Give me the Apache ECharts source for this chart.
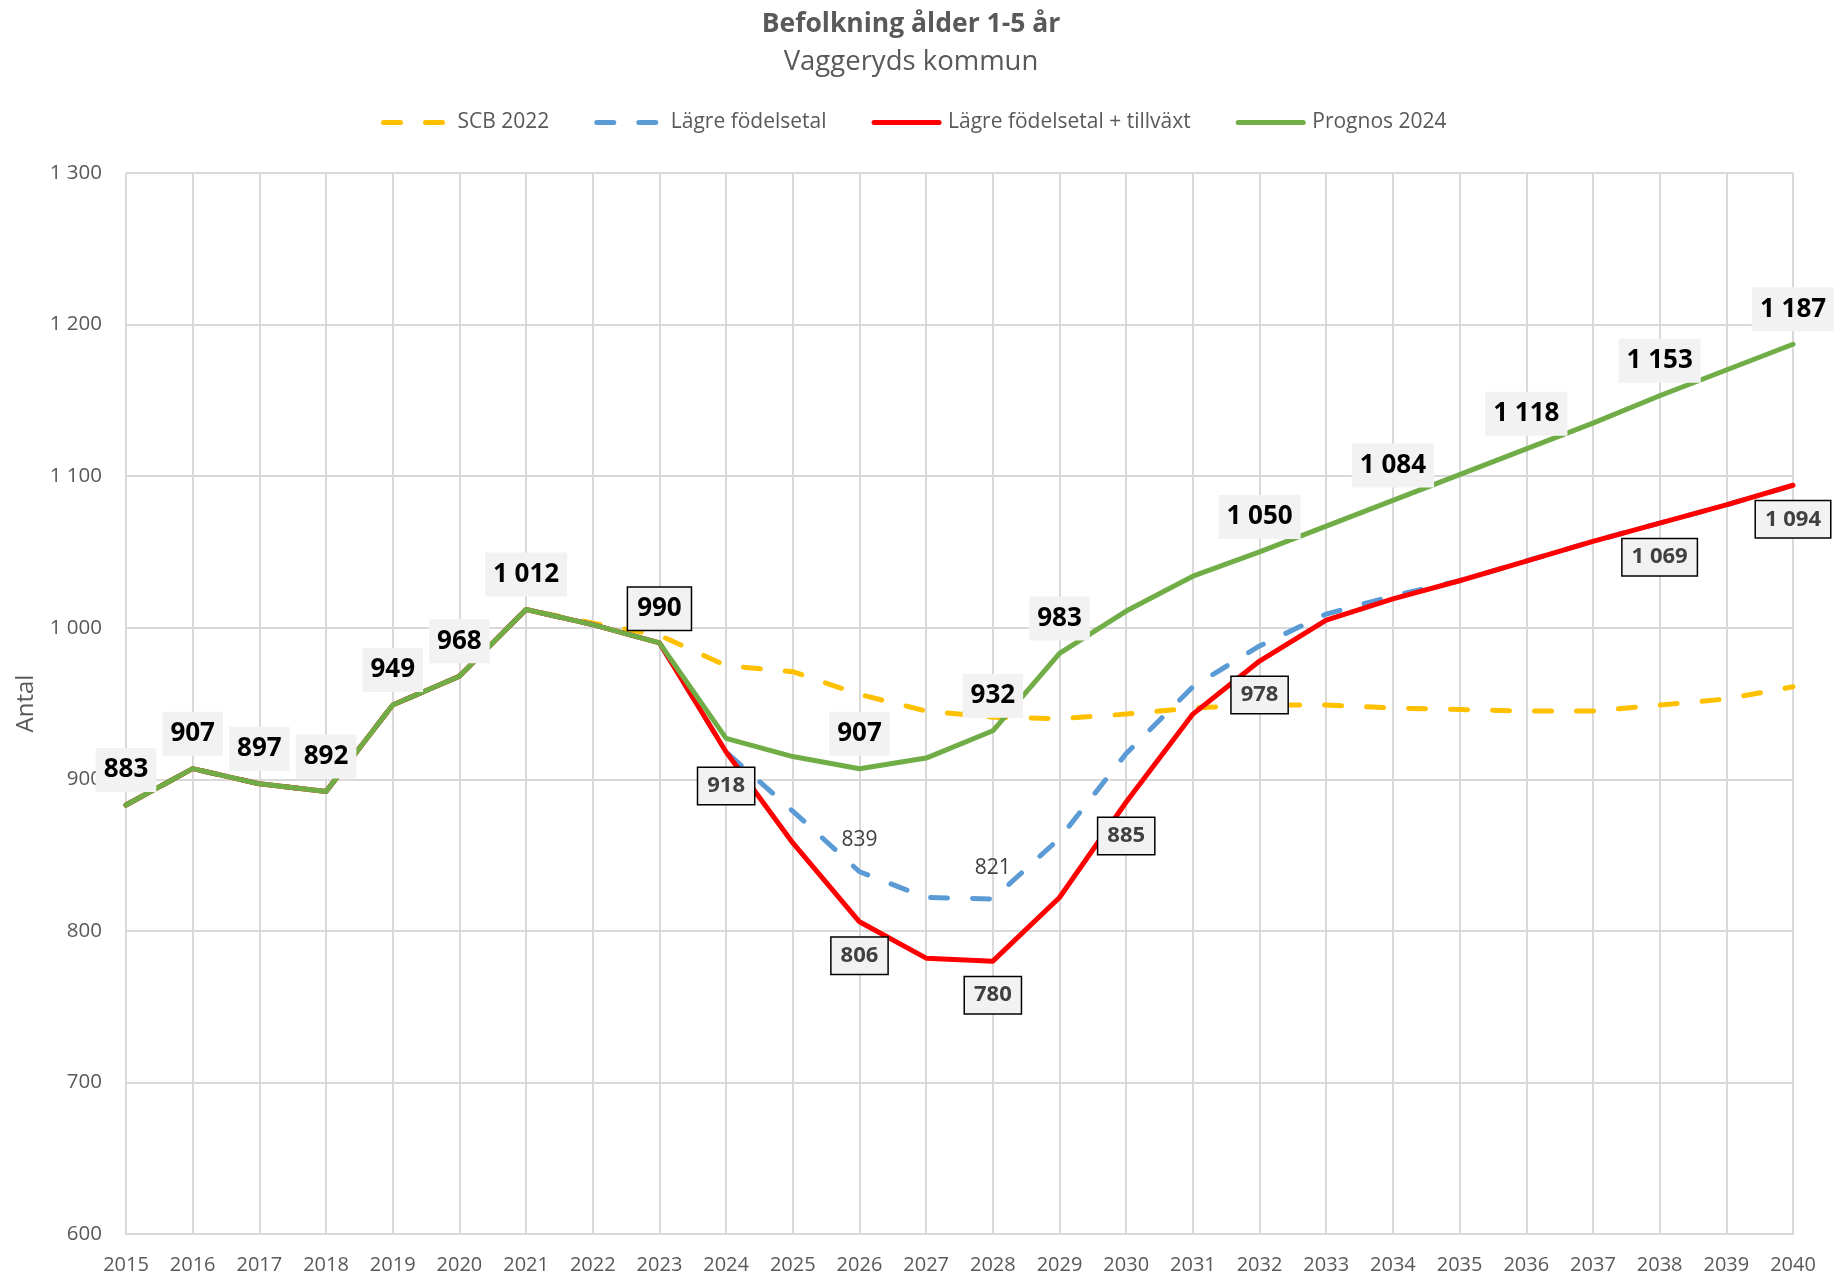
<!DOCTYPE html>
<html>
<head>
<meta charset="utf-8">
<title>Befolkning ålder 1-5 år</title>
<script src="https://cdn.jsdelivr.net/npm/echarts@6/dist/echarts.min.js"></script>
<style>
  html, body { margin: 0; padding: 0; background: #fff; }
  #chart { width: 1843px; height: 1278px; }
</style>
</head>
<body>
<div id="chart"></div>
<script>
// years on the x axis
var years = ['2015','2016','2017','2018','2019','2020','2021','2022','2023','2024','2025','2026','2027',
             '2028','2029','2030','2031','2032','2033','2034','2035','2036','2037','2038','2039','2040'];

// series values
var scb2022 = [883, 907, 897, 892, 949, 968, 1012, 1003, 995, 975, 971, 956, 945,
               941, 940, 943, 947, 949, 949, 947, 946, 945, 945, 949, 953, 961];
var lagreFodelsetal = [883, 907, 897, 892, 949, 968, 1012, 1002, 990, 918, 879, 839, 822,
                       821, 861, 917, 961, 988, 1009, 1021, 1031, 1044, 1057, 1069, 1081, 1094];
var lagreTillvaxt = [883, 907, 897, 892, 949, 968, 1012, 1002, 990, 918, 858, 806, 782,
                     780, 822, 885, 943, 978, 1005, 1019, 1031, 1044, 1057, 1069, 1081, 1094];
var prognos2024 = [883, 907, 897, 892, 949, 968, 1012, 1002, 990, 927, 915, 907, 914,
                   932, 983, 1011, 1034, 1050, 1067, 1084, 1101, 1118, 1135, 1153, 1170, 1187];

// which years carry a data label
var prognosLabelYears = ['2015','2016','2017','2018','2019','2020','2021','2026','2028','2029','2032','2034','2036','2038','2040'];
var tillvaxtLabelYears = ['2023','2024','2026','2028','2030','2032','2038','2040'];
var lagreLabelYears = ['2026','2028'];

// y axis
var yMin = 600, yMax = 1300, yStep = 100;

var FONT = '"Open Sans", "Noto Sans", sans-serif';
var GREY = '#595959';

function fmt(v) {
  return String(v).replace(/\B(?=(\d{3})+(?!\d))/g, ' ');
}

var greenLabel = {
  show: true, position: 'top', distance: 13,
  formatter: function (p) { return fmt(p.value); },
  fontFamily: FONT, fontSize: 26, fontWeight: 'bold', color: '#000',
  lineHeight: 26, backgroundColor: '#f2f2f2', padding: [9, 8]
};
var redLabel = {
  show: true, position: 'bottom', distance: 16,
  formatter: function (p) { return fmt(p.value); },
  fontFamily: FONT, fontSize: 22, fontWeight: 'bold', color: '#404040',
  lineHeight: 22, backgroundColor: '#f2f2f2', borderColor: '#000', borderWidth: 1.5,
  padding: [7, 9]
};
var bigBoxLabel = {
  show: true, position: 'top', distance: 13,
  formatter: function (p) { return fmt(p.value); },
  fontFamily: FONT, fontSize: 26, fontWeight: 'bold', color: '#000',
  lineHeight: 26, backgroundColor: '#f2f2f2', borderColor: '#000', borderWidth: 1.5,
  padding: [8, 9]
};
var blueLabel = {
  show: true, position: 'top', distance: 21,
  formatter: function (p) { return fmt(p.value); },
  fontFamily: FONT, fontSize: 21, color: '#404040'
};

// build data items, attaching labels only where the picture has them
function withLabels(values, labelYears, label, special) {
  var out = [];
  for (var i = 0; i < values.length; i++) {
    var item = { value: values[i] };
    if (special && special[years[i]]) {
      item.label = special[years[i]];
    } else if (labelYears.indexOf(years[i]) >= 0) {
      item.label = label;
    }
    out.push(item);
  }
  return out;
}

function lineSeries(name, color, data, dashed) {
  return {
    name: name,
    type: 'line',
    data: data,
    showSymbol: true,
    symbol: 'circle',
    symbolSize: 0,
    itemStyle: { color: color },
    lineStyle: { color: color, width: 5, type: dashed ? [17, 25] : 'solid', cap: 'round', join: 'round' },
    label: { show: false },
    emphasis: { disabled: true },
    silent: true
  };
}

var chart = echarts.init(document.getElementById('chart'), null, { renderer: 'canvas' });

chart.setOption({
  animation: false,
  backgroundColor: '#ffffff',
  textStyle: { fontFamily: FONT },
  graphic: [
    { type: 'text', x: 911, y: 24, style: { text: 'Befolkning ålder 1-5 år', fontFamily: FONT, fontSize: 26.5, fontWeight: 'bold', fill: GREY, align: 'center', verticalAlign: 'middle' } },
    { type: 'text', x: 911, y: 62, style: { text: 'Vaggeryds kommun', fontFamily: FONT, fontSize: 27.5, fill: GREY, align: 'center', verticalAlign: 'middle' } }
  ],
  legend: {
    left: 376, top: 107,
    itemWidth: 65, itemHeight: 26, itemGap: 45,
    itemStyle: { opacity: 0 },
    lineStyle: { width: 5 },
    textStyle: { fontFamily: FONT, fontSize: 21, color: GREY, padding: [0, 0, 0, 4] },
    data: ['SCB 2022', 'Lägre födelsetal', 'Lägre födelsetal + tillväxt', 'Prognos 2024']
  },
  grid: { left: 126, right: 50, top: 173, bottom: 44, containLabel: false },
  xAxis: {
    type: 'category',
    data: years,
    boundaryGap: false,
    axisLine: { show: true, lineStyle: { color: '#d9d9d9', width: 2 } },
    axisTick: { show: false },
    axisLabel: { interval: 0, margin: 21, fontFamily: FONT, fontSize: 20, color: GREY },
    splitLine: { show: true, interval: 0, lineStyle: { color: '#d9d9d9', width: 2 } }
  },
  yAxis: {
    type: 'value',
    min: yMin, max: yMax, interval: yStep,
    name: 'Antal',
    nameLocation: 'middle',
    nameGap: 88,
    nameRotate: 90,
    nameTextStyle: { fontFamily: FONT, fontSize: 24, color: GREY },
    axisLine: { show: false },
    axisTick: { show: false },
    axisLabel: { margin: 24, fontFamily: FONT, fontSize: 20.5, color: GREY, formatter: fmt },
    splitLine: { show: true, lineStyle: { color: '#d9d9d9', width: 2 } }
  },
  series: [
    lineSeries('SCB 2022', '#FFC000', withLabels(scb2022, [], null), true),
    lineSeries('Lägre födelsetal', '#5B9BD5', withLabels(lagreFodelsetal, lagreLabelYears, blueLabel), true),
    lineSeries('Lägre födelsetal + tillväxt', '#FF0000',
      withLabels(lagreTillvaxt, tillvaxtLabelYears, redLabel, { '2023': bigBoxLabel }), false),
    lineSeries('Prognos 2024', '#70AD47', withLabels(prognos2024, prognosLabelYears, greenLabel), false)
  ]
});
</script>
</body>
</html>
